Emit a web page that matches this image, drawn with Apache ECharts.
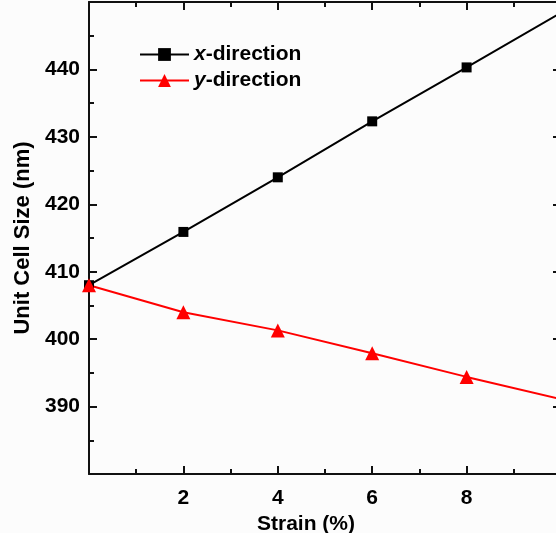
<!DOCTYPE html>
<html>
<head>
<meta charset="utf-8">
<script src="https://cdn.jsdelivr.net/npm/echarts@6/dist/echarts.min.js"></script>
<style>
  html, body { margin: 0; padding: 0; background: #fcfcfc; }
  #chart { width: 556px; height: 533px; }
</style>
</head>
<body>
<div id="chart"></div>
<script>
// Applied strain (%) and the resulting unit cell size (nm) along each direction
const strain = [0, 2, 4, 6, 8, 10];
const xDirection = [408.0, 415.9, 424.0, 432.3, 440.3, 448.4];
const yDirection = [408.0, 404.0, 401.3, 397.9, 394.4, 391.1];

const xTicks = [2, 4, 6, 8];
const yTicks = [390, 400, 410, 420, 430, 440];

const FONT = 'Liberation Sans, Arial, sans-serif';
const AXIS_COLOR = '#111';

function pairs(xs, ys) { return xs.map((x, i) => [x, ys[i]]); }

// the last point sits on the clipped right edge, so its marker is left out
const markerSize = size => v => (v[0] >= 10 ? 0 : size);

const frameAxis = {
  axisLine: { show: true, onZero: false, lineStyle: { color: AXIS_COLOR, width: 2 } },
  axisTick: { show: true, inside: true, length: 8, lineStyle: { color: AXIS_COLOR, width: 2 } },
  minorTick: { show: true, splitNumber: 2, length: 5, lineStyle: { color: AXIS_COLOR, width: 2 } },
  splitLine: { show: false },
  minorSplitLine: { show: false }
};

const chart = echarts.init(document.getElementById('chart'), null, { renderer: 'canvas' });
chart.setOption({
  backgroundColor: '#fcfcfc',
  animation: false,
  // the plotting frame runs a few pixels past the right edge of the canvas
  grid: { left: 89, top: 2, width: 472, bottom: 59, containLabel: false, outerBoundsMode: 'none' },
  legend: {
    orient: 'vertical',
    left: 139,
    top: 44,
    padding: 0,
    itemWidth: 49,
    itemHeight: 16,
    itemGap: 5,
    textStyle: {
      fontFamily: FONT,
      fontSize: 21,
      fontWeight: 'bold',
      color: '#000',
      rich: {
        it: { fontFamily: FONT, fontSize: 21, fontWeight: 'bold', fontStyle: 'italic', color: '#000' },
        b: { fontFamily: FONT, fontSize: 21, fontWeight: 'bold', color: '#000' }
      }
    },
    formatter: name => '{it|' + name.charAt(0) + '}{b|' + name.slice(1) + '}',
    data: [
      { name: 'x-direction', itemStyle: { color: '#000' }, symbolSize: 10 },
      { name: 'y-direction', itemStyle: { color: '#ff0000' }, symbolSize: 14 }
    ]
  },
  xAxis: [
    Object.assign({
      type: 'value', position: 'bottom', min: 0, max: 10, interval: 2,
      name: 'Strain (%)', nameLocation: 'middle', nameGap: 36,
      nameTextStyle: { fontFamily: FONT, fontSize: 21, fontWeight: 'bold', color: '#000', padding: [0, 38, 0, 0] },
      axisLabel: {
        margin: 14, fontFamily: FONT, fontSize: 21, fontWeight: 'bold', color: '#000',
        formatter: v => xTicks.includes(v) ? String(v) : ''
      }
    }, frameAxis),
    Object.assign({
      type: 'value', position: 'top', min: 0, max: 10, interval: 2,
      axisLabel: { show: false }
    }, frameAxis)
  ],
  yAxis: [
    Object.assign({
      type: 'value', position: 'left', min: 380, max: 450, interval: 10,
      name: 'Unit Cell Size (nm)', nameLocation: 'middle', nameGap: 54,
      nameTextStyle: { fontFamily: FONT, fontSize: 22, fontWeight: 'bold', color: '#000' },
      axisLabel: {
        margin: 9, fontFamily: FONT, fontSize: 21, fontWeight: 'bold', color: '#000',
        formatter: v => yTicks.includes(v) ? String(v) : ''
      }
    }, frameAxis),
    Object.assign({
      type: 'value', position: 'right', min: 380, max: 450, interval: 10,
      axisLabel: { show: false }
    }, frameAxis)
  ],
  series: [
    {
      name: 'x-direction', type: 'line', xAxisIndex: 0, yAxisIndex: 0,
      data: pairs(strain, xDirection),
      symbol: 'rect', symbolSize: markerSize(10),
      lineStyle: { color: '#000', width: 2 },
      itemStyle: { color: '#000' },
      clip: true
    },
    {
      name: 'y-direction', type: 'line', xAxisIndex: 0, yAxisIndex: 0,
      data: pairs(strain, yDirection),
      symbol: 'triangle', symbolSize: markerSize(14),
      lineStyle: { color: '#ff0000', width: 2 },
      itemStyle: { color: '#ff0000' },
      clip: true
    }
  ]
});
</script>
</body>
</html>
